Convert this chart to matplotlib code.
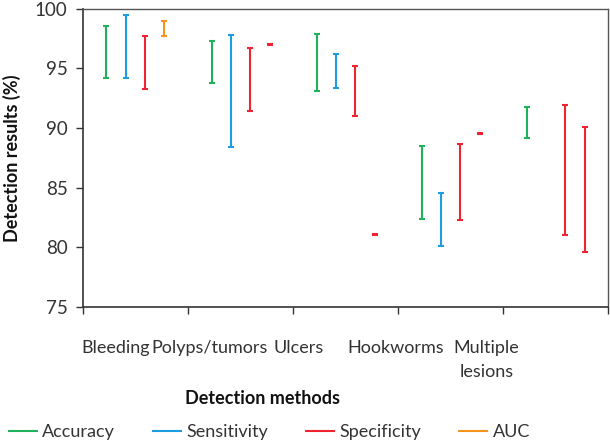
import matplotlib
matplotlib.use("Agg")
import matplotlib.pyplot as plt
import numpy as np
from matplotlib.lines import Line2D

nan = np.nan

categories = ["Bleeding", "Polyps/tumors", "Ulcers", "Hookworms", "Multiple\nlesions"]
label_pos = [0.31, 1.21, 2.05, 2.98, 3.84]

# ranges (low, high)
acc_low = [94.2, 93.8, 93.1, 82.4, 89.2]
acc_high = [98.6, 97.3, 97.9, 88.5, 91.8]
sens_low = [94.2, 88.4, 93.4, 80.1, nan]
sens_high = [99.5, 97.8, 96.2, 84.6, nan]
spec_low = [93.3, 91.4, 91.0, 82.3, 81.0]
spec_high = [97.7, 96.7, 95.2, 88.7, 91.9]
auc_low = [97.7, nan, nan, nan, nan]
auc_high = [99.0, nan, nan, nan, nan]
# red marks sitting in the 4th slot
extra_low = [nan, 96.95, 81.02, 89.48, 79.6]
extra_high = [nan, 97.05, 81.12, 89.58, 90.1]

c_green = "#1fb25a"
c_blue = "#1b9de0"
c_red = "#f02431"
c_orange = "#f7941d"

plt.rcParams['font.family'] = ['Lato', 'DejaVu Sans']

fig = plt.figure(figsize=(6.1, 4.43), dpi=100)
ax = fig.add_axes([0.136, 0.307, 0.861, 0.673])

series = [
    (acc_low, acc_high, c_green, 0),
    (sens_low, sens_high, c_blue, 1),
    (spec_low, spec_high, c_red, 2),
    (auc_low, auc_high, c_orange, 3),
    (extra_low, extra_high, c_red, 3),
]
slot_w = 0.184
for low, high, col, k in series:
    low = np.array(low)
    high = np.array(high)
    x = np.arange(len(categories)) + 0.5 + (k - 1.5) * slot_w
    ok = ~np.isnan(low)
    mid = (low + high) / 2
    ax.errorbar(x[ok], mid[ok], yerr=[mid[ok] - low[ok], high[ok] - mid[ok]],
                fmt='none', ecolor=col, elinewidth=1.5, capsize=2.4, capthick=1.5)

ax.set_xlim(0, len(categories))
ax.set_ylim(75, 100)
ax.set_yticks([75, 80, 85, 90, 95, 100])
ax.set_xticks(np.arange(len(categories) + 1))
ax.set_xticklabels([])
ax.tick_params(axis='both', direction='out', length=5, width=1, color='#333333',
               labelsize=13.5, labelcolor='#333333', pad=6)

for sp in ['left', 'bottom']:
    ax.spines[sp].set_color('#333333')
    ax.spines[sp].set_linewidth(1.2)
for sp in ['top', 'right']:
    ax.spines[sp].set_color('#555555')
    ax.spines[sp].set_linewidth(1.0)

for name, pos in zip(categories, label_pos):
    ax.text(pos, 75 - 2.8, name, ha='center', va='top', multialignment='center',
            fontsize=13, color='#333333', linespacing=1.55,
            transform=ax.transData, clip_on=False)

ax.set_ylabel("Detection results (%)", fontsize=13, fontweight='bold', color='#111111')
ax.yaxis.set_label_coords(-0.118, 0.5)
ax.set_xlabel("Detection methods", fontsize=13, fontweight='bold', color='#111111')
ax.xaxis.set_label_coords((262 - 83) / 525, -0.28)

handles = [Line2D([], [], color=c, lw=1.5) for c in [c_green, c_blue, c_red, c_orange]]
fig.legend(handles, ["Accuracy", "Sensitivity", "Specificity", "AUC"], ncol=4,
           loc='lower left', bbox_to_anchor=(-0.012, -0.03), frameon=False,
           fontsize=13, handlelength=1.55, handletextpad=0.3, columnspacing=2.1,
           labelcolor='#333333')

fig.savefig("out.png", dpi=100)
